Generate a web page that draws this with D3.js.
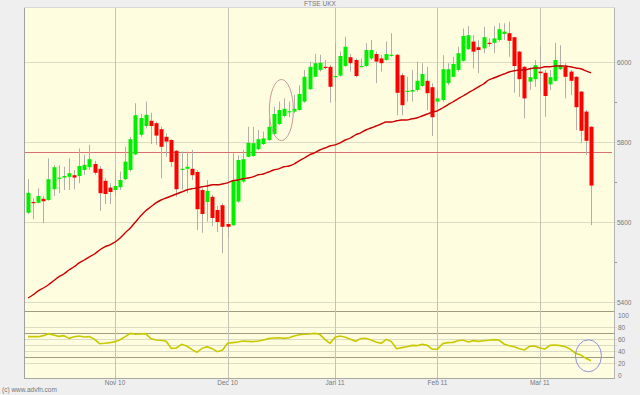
<!DOCTYPE html>
<html>
<head>
<meta charset="utf-8">
<script src="https://cdn.jsdelivr.net/npm/d3@7"></script>
<style>
  body { margin: 0; background: #efefef; }
  text { font-family: "Liberation Sans", Arial, sans-serif; }
</style>
</head>
<body>
<div class="chart"></div>
<script>
// FTSE daily candles, 7 Oct 2010 - 15 Mar 2011 (one entry per trading day)
var openP = [5623,5650,5648,5658,5655,5682,5709,5711,5713,5717,5715,5730,5737,5745,5733,5703,5686,5680,5687,5707,
  5730,5769,5818,5840,5853,5847,5832,5813,5805,5778,5732,5733,5733,5725,5680,5650,5663,5630,5642,5595,
  5592,5651,5701,5763,5765,5782,5795,5805,5820,5845,5865,5875,5876,5880,5901,5932,5963,5980,5988,5988,
  5963,5966,5990,6012,6005,5987,5990,6009,6020,6009,6005,6015,6018,5967,5926,5926,5930,5940,5953,5937,
  5901,5905,5947,5963,5980,6003,6032,6051,6037,6034,6048,6048,6055,6070,6072,6062,6026,5988,5951,5957,
  5976,5973,5944,5953,5982,5988,5976,5963,5926,5876,5838];
var highP = [5707,5659,5684,5665,5759,5742,5742,5738,5759,5730,5784,5768,5793,5753,5740,5709,5697,5730,5726,5788,
  5813,5897,5870,5901,5873,5851,5838,5822,5807,5780,5776,5776,5780,5730,5684,5705,5668,5640,5647,5600,
  5772,5767,5780,5838,5838,5830,5826,5859,5888,5901,5909,5901,5918,5942,5980,6001,6020,6018,6005,5993,
  6047,6026,6063,6020,6009,6009,6047,6055,6026,6018,6051,6072,6020,5972,5963,5980,6001,5997,5988,5947,
  5930,6017,5997,6013,6038,6084,6090,6067,6055,6088,6059,6090,6097,6097,6101,6063,6028,5990,5988,6005,
  6040,5980,5980,6048,6042,5997,5980,5965,5928,5880,5840];
var lowP = [5620,5607,5647,5597,5653,5665,5672,5680,5680,5682,5697,5718,5730,5718,5628,5645,5645,5665,5680,5705,
  5726,5767,5813,5834,5795,5793,5709,5763,5738,5663,5680,5672,5705,5580,5573,5601,5590,5575,5522,5560,
  5590,5648,5698,5762,5763,5780,5792,5803,5817,5842,5862,5862,5872,5878,5898,5930,5962,5976,5982,5898,
  5901,5963,5988,5976,5962,5987,5988,6005,5947,5976,6003,6013,5867,5867,5901,5901,5926,5938,5880,5815,
  5892,5901,5942,5962,5976,6001,6030,5984,5972,6022,6038,6022,6051,6055,6013,5923,5913,5859,5930,5938,
  5926,5863,5930,5951,5980,5909,5917,5830,5797,5767,5592];
var closeP = [5673,5647,5665,5652,5707,5737,5711,5715,5722,5711,5740,5743,5757,5723,5672,5670,5675,5690,5705,5751,
  5807,5867,5860,5868,5840,5816,5788,5801,5750,5682,5733,5738,5717,5632,5620,5678,5610,5600,5588,5588,
  5705,5755,5757,5798,5797,5807,5809,5838,5870,5880,5883,5877,5883,5920,5963,5988,5997,5998,5986,5938,
  5965,6015,6038,5997,5965,5990,6030,6030,6001,5997,6020,6018,5923,5892,5928,5930,5953,5970,5922,5862,
  5909,5982,5982,5995,6022,6065,6067,6026,6030,6062,6047,6059,6082,6076,6053,5990,5957,5909,5962,5992,
  5972,5915,5962,6005,5992,5963,5953,5887,5828,5803,5691];

// moving average (red curve)
var maP = [5410,5418,5428,5435,5443,5453,5463,5470,5480,5488,5498,5505,5513,5520,5530,5538,5543,5550,5560,5573,
  5585,5600,5615,5628,5638,5648,5655,5660,5665,5670,5675,5680,5683,5685,5688,5690,5693,5693,5695,5698,
  5703,5705,5708,5710,5713,5718,5720,5725,5730,5733,5738,5740,5745,5753,5760,5768,5773,5780,5785,5790,
  5793,5798,5805,5810,5818,5823,5830,5835,5840,5845,5850,5850,5853,5855,5855,5858,5860,5865,5870,5875,
  5878,5885,5893,5900,5908,5915,5923,5930,5938,5945,5955,5960,5965,5970,5975,5978,5980,5980,5983,5985,
  5985,5988,5988,5990,5990,5990,5988,5985,5983,5978,5973];

// RSI (lower panel)
var rsiV = [63.9,63.9,63.9,65.6,68.9,66.7,64.4,65.6,61.1,63.9,65.0,63.3,63.9,59.4,52.2,52.8,53.9,55.6,58.9,63.9,
  69.4,67.8,68.3,68.9,60.6,58.3,57.8,56.1,44.4,45.0,51.1,48.3,42.8,37.8,44.4,47.2,43.9,38.9,41.7,52.8,
  53.9,55.0,56.7,56.1,55.6,56.7,58.3,60.6,61.7,62.2,61.1,62.2,65.0,67.2,67.8,68.3,69.4,67.8,59.4,52.8,
  62.8,65.0,62.8,59.4,56.1,60.6,61.1,58.3,55.0,52.8,59.4,55.6,43.9,45.6,47.2,49.4,48.9,51.1,49.4,42.8,
  42.8,52.2,53.9,54.4,57.2,58.3,55.0,57.2,56.1,57.2,57.8,58.9,58.3,51.7,48.9,47.2,43.9,41.7,47.8,48.3,
  45.0,43.3,49.4,50.0,48.9,47.2,42.8,36.1,33.3,27.8,23.9];

// month ticks: trading-day index and label
var monthIdx = [17, 39, 60, 80, 100];
var monthLabels = ["Nov 10", "Dec 10", "Jan 11", "Feb 11", "Mar 11"];

var priceTicks = [5400, 5600, 5800, 6000];
var priceMinor = [5500, 5700, 5900];
var rsiTicks = [100, 80, 60, 40, 20, 0];
var rsiLines = [80, 60, 50, 40, 20];
var rsiBands = [70, 30];
var resistance = 5775;

var svgWidth = 640;
var svgHeight = 395;

// plot area (window.top is read-only, so use own names)
var plotL = 24, plotR = 614, plotT = 7, plotB = 378;
var mainBottom = 311;

var svg = d3.select(".chart")
  .append("svg")
  .attr("width", svgWidth)
  .attr("height", svgHeight)
  .style("display", "block");

svg.append("rect")
  .attr("width", svgWidth)
  .attr("height", svgHeight)
  .attr("fill", "#efefef");

var x = d3.scaleLinear().domain([0, 110]).range([28, 591]);
var y = d3.scaleLinear().domain([5400, 6000]).range([302, 62]);
var yR = d3.scaleLinear().domain([0, 100]).range([375, 315]);

svg.append("defs").append("clipPath")
  .attr("id", "mainClip")
  .append("rect")
  .attr("x", plotL).attr("y", plotT)
  .attr("width", plotR - plotL).attr("height", mainBottom - plotT);

// background of plot
svg.append("rect")
  .attr("x", plotL).attr("y", plotT)
  .attr("width", plotR - plotL).attr("height", plotB - plotT)
  .attr("fill", "#fffde0");

// price grid
svg.selectAll(".pgrid")
  .data(priceTicks)
  .enter().append("line")
  .attr("x1", plotL).attr("x2", plotR + 3)
  .attr("y1", d => Math.round(y(d)) + 0.5).attr("y2", d => Math.round(y(d)) + 0.5)
  .attr("stroke", "#dcdcc4");

svg.selectAll(".pminor")
  .data(priceMinor)
  .enter().append("line")
  .attr("x1", plotR).attr("x2", plotR + 3)
  .attr("y1", d => Math.round(y(d)) + 0.5).attr("y2", d => Math.round(y(d)) + 0.5)
  .attr("stroke", "#999");

// rsi grid
svg.selectAll(".rgrid")
  .data(rsiLines)
  .enter().append("line")
  .attr("x1", plotL).attr("x2", plotR + 3)
  .attr("y1", d => Math.round(yR(d)) + 0.5).attr("y2", d => Math.round(yR(d)) + 0.5)
  .attr("stroke", "#dcdcc4");

svg.selectAll(".rband")
  .data(rsiBands)
  .enter().append("line")
  .attr("x1", plotL).attr("x2", plotR)
  .attr("y1", d => Math.round(yR(d)) + 0.5).attr("y2", d => Math.round(yR(d)) + 0.5)
  .attr("stroke", "#a09c80");

// panel separator
svg.append("line")
  .attr("x1", plotL).attr("x2", plotR)
  .attr("y1", mainBottom + 0.5).attr("y2", mainBottom + 0.5)
  .attr("stroke", "#a09c80");

// month grid lines
svg.selectAll(".vgrid")
  .data(monthIdx)
  .enter().append("line")
  .attr("x1", d => Math.round(x(d)) + 0.5).attr("x2", d => Math.round(x(d)) + 0.5)
  .attr("y1", plotT).attr("y2", plotB + 3)
  .attr("stroke", "#c4c4b4");

// resistance line
svg.append("line")
  .attr("x1", plotL).attr("x2", plotR - 2)
  .attr("y1", Math.round(y(resistance)) + 0.5).attr("y2", Math.round(y(resistance)) + 0.5)
  .attr("stroke", "#d77070");

var chart = svg.append("g").attr("clip-path", "url(#mainClip)");

var idx = d3.range(openP.length);

// wicks
chart.selectAll(".wick")
  .data(idx)
  .enter().append("line")
  .attr("x1", i => Math.round(x(i)) + 0.5).attr("x2", i => Math.round(x(i)) + 0.5)
  .attr("y1", i => y(highP[i])).attr("y2", i => y(lowP[i]))
  .attr("stroke", "#b0b0a8");

// bodies
chart.selectAll(".body")
  .data(idx)
  .enter().append("rect")
  .attr("x", i => Math.round(x(i)) - 1.5)
  .attr("width", 4)
  .attr("y", i => y(Math.max(openP[i], closeP[i])))
  .attr("height", i => Math.max(1.2, Math.abs(y(openP[i]) - y(closeP[i]))))
  .attr("fill", i => closeP[i] >= openP[i] ? "#00ee00" : "#ff0000");

// moving average
chart.append("path")
  .datum(idx)
  .attr("fill", "none")
  .attr("stroke", "#cc0000")
  .attr("stroke-width", 1.4)
  .attr("d", d3.line().curve(d3.curveMonotoneX).x(i => x(i)).y(i => y(maP[i])));

// rsi line
svg.append("path")
  .datum(idx)
  .attr("fill", "none")
  .attr("stroke", "#c8c800")
  .attr("stroke-width", 1.6)
  .attr("d", d3.line().x(i => x(i)).y(i => yR(rsiV[i])));

// hand drawn ellipses
svg.append("ellipse")
  .attr("cx", x(49.5)).attr("cy", y(5880))
  .attr("rx", 12).attr("ry", 30.5)
  .attr("fill", "none").attr("stroke", "#c49a9a");

svg.append("ellipse")
  .attr("cx", x(109.5)).attr("cy", yR(32))
  .attr("rx", 13).attr("ry", 16)
  .attr("fill", "none").attr("stroke", "#9090d8");

// frame
svg.append("line")
  .attr("x1", plotL + 0.5).attr("x2", plotL + 0.5).attr("y1", plotT).attr("y2", plotB + 1)
  .attr("stroke", "#a0a0a0");
svg.append("line")
  .attr("x1", plotR + 0.5).attr("x2", plotR + 0.5).attr("y1", plotT).attr("y2", plotB + 1)
  .attr("stroke", "#b4b4b4");
svg.append("line")
  .attr("x1", plotL).attr("x2", plotR + 1).attr("y1", plotB + 0.5).attr("y2", plotB + 0.5)
  .attr("stroke", "#a8a8a0");
svg.append("line")
  .attr("x1", plotL).attr("x2", plotR + 1).attr("y1", plotT + 0.5).attr("y2", plotT + 0.5)
  .attr("stroke", "#d8d8d8");

// labels
var labelStyle = function(sel) {
  sel.attr("font-size", "6.5px").attr("fill", "#777");
};

svg.selectAll(".plabel")
  .data(priceTicks)
  .enter().append("text")
  .attr("x", plotR + 3).attr("y", d => y(d) + 2.5)
  .text(d => d)
  .call(labelStyle);

svg.selectAll(".rlabel")
  .data(rsiTicks)
  .enter().append("text")
  .attr("x", plotR + 4).attr("y", d => yR(d) + 2.5)
  .text(d => d)
  .call(labelStyle);

svg.selectAll(".mlabel")
  .data(monthIdx)
  .enter().append("text")
  .attr("x", d => x(d)).attr("y", plotB + 7)
  .attr("text-anchor", "middle")
  .text((d, k) => monthLabels[k])
  .call(labelStyle);

svg.append("text")
  .attr("x", 320).attr("y", 6)
  .attr("text-anchor", "middle")
  .text("FTSE UKX")
  .call(labelStyle);

svg.append("text")
  .attr("x", 2).attr("y", 392)
  .text("(c) www.advfn.com")
  .call(labelStyle);
</script>
</body>
</html>
